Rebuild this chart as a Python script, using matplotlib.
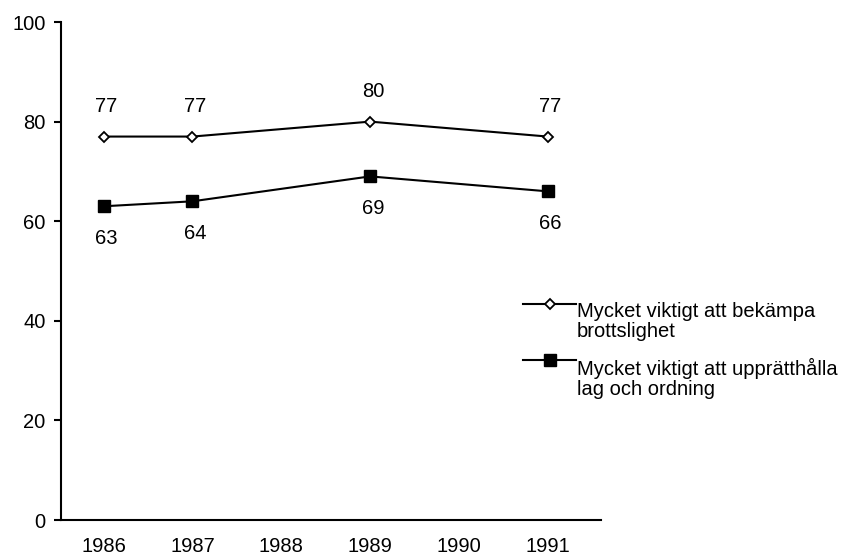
import matplotlib
matplotlib.use("Agg")
import matplotlib.pyplot as plt
from matplotlib.lines import Line2D

plt.rcParams['font.family'] = ['Liberation Sans', 'DejaVu Sans']

# data
years = [1986, 1987, 1989, 1991]
year_ticks = [1986, 1987, 1988, 1989, 1990, 1991]
bekampa = [77, 77, 80, 77]
upprattholla = [63, 64, 69, 66]
series_names = ['Mycket viktigt att bekämpa\nbrottslighet',
                'Mycket viktigt att upprätthålla\nlag och ordning']

FS = 14.5

fig = plt.figure(figsize=(8.58, 5.56), dpi=100)
ax = fig.add_axes([0.0711, 0.0647, 0.6294, 0.8957])

ax.plot(years, bekampa, color='black', lw=1.5, marker='D', ms=5.5,
        mfc='white', mec='black', mew=1.3)
ax.plot(years, upprattholla, color='black', lw=1.5, marker='s', ms=9,
        mfc='black', mec='black')

# value labels
for x, v in zip(years, bekampa):
    ax.annotate(str(v), (x, v), xytext=(2, 22), textcoords='offset points',
                ha='center', va='center', fontsize=FS)
for x, v in zip(years, upprattholla):
    ax.annotate(str(v), (x, v), xytext=(2, -23), textcoords='offset points',
                ha='center', va='center', fontsize=FS)

ax.set_xlim(1985.52, 1991.6)
ax.set_ylim(0, 100)
ax.set_yticks([0, 20, 40, 60, 80, 100])
ax.set_xticks(year_ticks)
ax.set_xticklabels([str(y) for y in year_ticks])

for side in ['top', 'right']:
    ax.spines[side].set_visible(False)
for side in ['left', 'bottom']:
    ax.spines[side].set_linewidth(1.5)

ax.tick_params(axis='y', direction='out', length=5, width=1.5, pad=6, labelsize=FS)
ax.tick_params(axis='x', length=0, pad=12, labelsize=FS)

# legend drawn by hand so the handle sits on the first text line
handles = [
    dict(marker='D', ms=5.5, mfc='white', mew=1.3),
    dict(marker='s', ms=9, mfc='black', mew=1.0),
]
legend_y = [304, 360]
text_top = [302, 358]
for name, h, ly, tt in zip(series_names, handles, legend_y, text_top):
    yf = 1 - ly / 556
    fig.add_artist(Line2D([523 / 858, 576 / 858], [yf, yf], color='black', lw=1.5,
                          transform=fig.transFigure))
    fig.add_artist(Line2D([549.5 / 858], [yf], color='black', mec='black',
                          transform=fig.transFigure, **h))
    fig.text(577 / 858, 1 - tt / 556, name, fontsize=FS, ha='left', va='top',
             linespacing=1.05)

fig.savefig('out.png', dpi=100)
